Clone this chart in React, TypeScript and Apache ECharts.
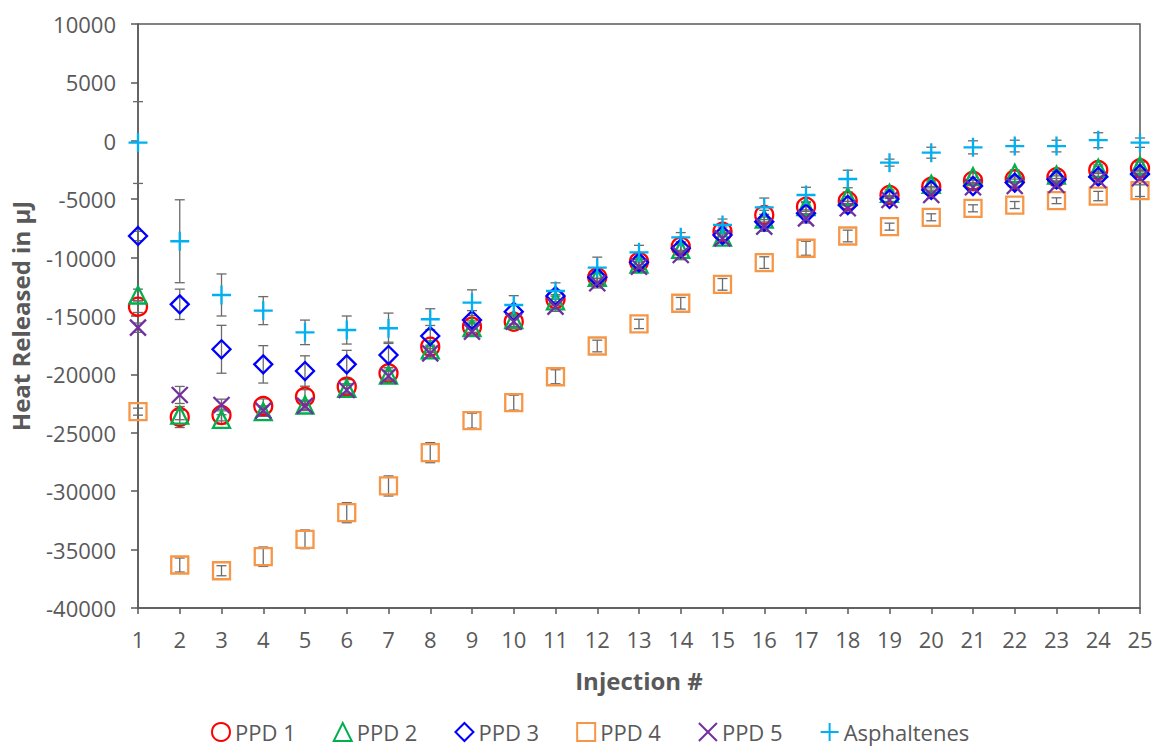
import React, { useEffect, useRef } from "react";
import * as echarts from "echarts";

const injections = [1, 2, 3, 4, 5, 6, 7, 8, 9, 10, 11, 12, 13, 14, 15, 16, 17, 18, 19, 20, 21, 22, 23, 24, 25];

const ppd1 = [-14200, -23650, -23480, -22700, -21910, -21050, -19910, -17630, -15920, -15490, -13570, -11690, -10350, -9060, -7780, -6350, -5640, -5150, -4640, -3930, -3420, -3300, -3130, -2500, -2360];
const ppd2 = [-13200, -23480, -23850, -23190, -22620, -21200, -20050, -17900, -16000, -15300, -13700, -11700, -10550, -9300, -8250, -6700, -5640, -4780, -4500, -3730, -3070, -2790, -2930, -2360, -2130];
const ppd3 = [-8150, -14000, -17850, -19140, -19710, -19140, -18340, -16710, -15340, -14630, -13290, -11690, -10400, -9200, -8070, -6920, -6210, -5500, -4980, -4210, -3870, -3580, -3300, -3070, -2840];
const ppd4 = [-23190, -36320, -36810, -35610, -34120, -31840, -29550, -26700, -23960, -22420, -20200, -17570, -15680, -13910, -12290, -10430, -9200, -8150, -7350, -6550, -5780, -5500, -5130, -4730, -4270];
const ppd5 = [-16000, -21760, -22620, -23100, -22700, -21340, -20140, -18200, -16340, -15490, -14200, -12200, -10780, -9780, -8350, -7350, -6640, -5780, -5070, -4640, -3980, -3870, -3780, -3360, -3210];
const asphaltenes = [-150, -8600, -13200, -14540, -16400, -16200, -16050, -15280, -13860, -14060, -12860, -10860, -9550, -8260, -7200, -5700, -4640, -3270, -1870, -1020, -560, -450, -450, 50, -160];

const ppd1Err = [500, 900, 500, 600, 600, 600, 500, 500, 500, 500, 400, 400, 400, 400, 400, 400, 400, 400, 300, 300, 300, 300, 300, 300, 300];
const ppd2Err = [500, 400, 400, 400, 400, 400, 400, 400, 400, 400, 400, 400, 400, 400, 400, 400, 400, 400, 300, 300, 300, 300, 300, 300, 300];
const ppd3Err = [400, 1300, 2050, 1600, 1300, 1200, 1100, 900, 800, 600, 500, 500, 400, 400, 400, 400, 300, 300, 300, 300, 300, 300, 300, 300, 300];
const ppd4Err = [300, 600, 430, 830, 800, 860, 860, 860, 640, 640, 600, 500, 400, 500, 500, 500, 600, 500, 300, 300, 300, 300, 250, 400, 500];
const ppd5Err = [400, 730, 500, 400, 400, 400, 400, 400, 400, 400, 400, 400, 400, 400, 400, 400, 400, 400, 300, 300, 300, 300, 300, 300, 300];
const asphErr = [3500, 3550, 1800, 1200, 1050, 1200, 1300, 900, 1100, 800, 700, 900, 600, 400, 500, 800, 660, 750, 300, 470, 560, 500, 500, 640, 400];

const seriesNames = ["PPD 1", "PPD 2", "PPD 3", "PPD 4", "PPD 5", "Asphaltenes"];
const seriesValues = [ppd1, ppd2, ppd3, ppd4, ppd5, asphaltenes];
const seriesErrors = [ppd1Err, ppd2Err, ppd3Err, ppd4Err, ppd5Err, asphErr];
const seriesColors = ["#FF0000", "#00B050", "#0000FF", "#F79646", "#7030A0", "#00B0F0"];
const seriesSymbols = [
  "circle",
  "triangle",
  "diamond",
  "rect",
  "path://M0,0L10,10M10,0L0,10",
  "path://M5,0L5,10M0,5L10,5",
];
const symbolSizes: any[] = [18, 17, 18, 17, 16, 19];

const yTicks = { min: -40000, max: 10000, interval: 5000 };

const FONT = "'Open Sans', sans-serif";
const TEXT = "#595959";

export default function App() {
  const ref = useRef<HTMLDivElement>(null);
  useEffect(() => {
    if (!ref.current) return;
    const chart = echarts.init(ref.current, null, { renderer: "svg" });

    const errData: any[] = [];
    seriesValues.forEach((vals, si) => {
      vals.forEach((v, i) => {
        const e = seriesErrors[si][i];
        errData.push([injections[i], v - e, v + e]);
      });
    });

    const scatter = seriesNames.map((name, si) => ({
      name,
      type: "scatter",
      symbol: seriesSymbols[si],
      symbolSize: symbolSizes[si],
      data: seriesValues[si].map((v, i) => [injections[i], v]),
      itemStyle: {
        color: "transparent",
        borderColor: seriesColors[si],
        borderWidth: 2.3,
        opacity: 1,
      },
      z: 3 + si,
    }));

    chart.setOption({
      animation: false,
      backgroundColor: "#ffffff",
      textStyle: { fontFamily: FONT },
      grid: {
        left: 138,
        right: 16,
        top: 24,
        bottom: 138,
        outerBoundsMode: "none",
        show: true,
        borderColor: TEXT,
        borderWidth: 1.5,
        backgroundColor: "transparent",
      },
      legend: {
        bottom: 0,
        left: 206,
        itemGap: 37,
        itemWidth: 18,
        itemHeight: 18,
        padding: [2, 5, 2, 5],
        textStyle: { color: TEXT, fontSize: 22, fontFamily: FONT, lineHeight: 24 },
        data: seriesNames,
      },
      xAxis: {
        type: "value",
        min: 1,
        max: 25,
        interval: 1,
        name: "Injection #",
        nameLocation: "middle",
        nameGap: 60,
        nameTextStyle: { color: TEXT, fontSize: 24, fontWeight: "bold", fontFamily: FONT },
        axisLine: { onZero: false, lineStyle: { color: TEXT, width: 1.5 } },
        axisTick: { inside: false, length: 6, lineStyle: { color: TEXT, width: 1.5 } },
        axisLabel: { color: TEXT, fontSize: 22, margin: 20, fontFamily: FONT },
        splitLine: { show: false },
      },
      yAxis: {
        type: "value",
        min: yTicks.min,
        max: yTicks.max,
        interval: yTicks.interval,
        name: "Heat Released in µJ",
        nameLocation: "middle",
        nameRotate: 90,
        nameGap: 106,
        nameTextStyle: { color: TEXT, fontSize: 24, fontWeight: "bold", fontFamily: FONT },
        axisLine: { show: true, onZero: false, lineStyle: { color: TEXT, width: 1.5 } },
        axisTick: { show: true, inside: false, length: 7, lineStyle: { color: TEXT, width: 1.5 } },
        axisLabel: {
          color: TEXT,
          fontSize: 22,
          margin: 22,
          fontFamily: FONT,
          formatter: (v: number) => String(v),
        },
        splitLine: { show: false },
      },
      series: [
        {
          type: "custom",
          name: "errors",
          z: 2,
          silent: true,
          data: errData,
          encode: { x: 0, y: [1, 2] },
          renderItem: (params: any, api: any) => {
            const x = api.value(0);
            const lo = api.value(1);
            const hi = api.value(2);
            const p1 = api.coord([x, hi]);
            const p2 = api.coord([x, lo]);
            const hw = 5;
            const style = { stroke: "#6b6b6b", lineWidth: 1.3, fill: "none" };
            return {
              type: "group",
              children: [
                { type: "line", shape: { x1: p1[0], y1: p1[1], x2: p2[0], y2: p2[1] }, style },
                { type: "line", shape: { x1: p1[0] - hw, y1: p1[1], x2: p1[0] + hw, y2: p1[1] }, style },
                { type: "line", shape: { x1: p2[0] - hw, y1: p2[1], x2: p2[0] + hw, y2: p2[1] }, style },
              ],
            };
          },
        },
        ...scatter,
      ],
    });
    return () => chart.dispose();
  }, []);
  return <div ref={ref} style={{ width: 1156, height: 746, position: "absolute", left: 0, top: 0 }} />;
}
